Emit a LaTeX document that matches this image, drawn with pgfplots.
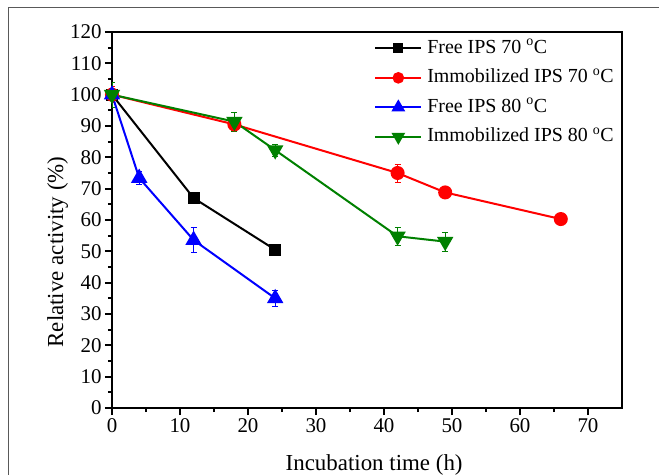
\documentclass[border=0pt]{standalone}
\usepackage{fontspec}
\setmainfont{Liberation Serif}
\usepackage{pgfplots}
\pgfplotsset{compat=1.18}
\definecolor{dgreen}{RGB}{0,128,0}
\begin{document}
\begin{tikzpicture}
\useasboundingbox (0,0) rectangle (659bp,475bp);
% outer frame of the figure (cut at right and bottom)
\draw[black!65, line width=0.8bp] (8bp,-10bp) -- (8bp,468bp) -- (680bp,468bp);
\begin{axis}[
    at={(112bp,67bp)}, anchor=south west,
    scale only axis, width=510bp, height=376bp,
    xmin=0, xmax=75, ymin=0, ymax=120,
    xtick={0,10,...,70}, ytick={0,10,...,120},
    minor x tick num=1, minor y tick num=1,
    tick align=outside, xtick pos=bottom, ytick pos=left,
    major tick length=7bp, minor tick length=4bp,
    tick style={black, line width=1.8bp},
    axis line style={line width=2.8bp},
    ticklabel style={font=\fontsize{21}{24}\selectfont},
    /pgf/number format/assume math mode=true,
    xlabel={Incubation time (h)},
    ylabel={Relative activity (\%)},
    xlabel style={at={(axis description cs:0.514,-0.165)}, anchor=base, font=\fontsize{23}{27}\selectfont},
    ylabel style={at={(axis description cs:-0.096,0.415)}, anchor=base, font=\fontsize{23}{27}\selectfont},
    legend style={draw=none, fill=none, at={(axis description cs:0.514,0.981)}, anchor=north west,
        inner sep=0pt, row sep=11.5bp, column sep=5bp,
        nodes={inner sep=0pt, text height=14bp, text depth=4bp, font=\fontsize{20}{24}\selectfont},
        cells={anchor=west}},
    legend image code/.code={\draw[mark repeat=2,mark phase=2,mark size=0.8*\pgfplotmarksize] plot coordinates {(0bp,0bp)(23bp,0bp)(46bp,0bp)};},
    error bars/y dir=both, error bars/y explicit,
    error bars/error bar style={line width=0.7bp},
    error bars/error mark options={rotate=90, mark size=3bp, line width=0.7bp},
]
\addplot[black, line width=2bp, mark=square*, mark size=5bp, mark options={solid, fill=black}]
coordinates {(0,100) +- (0,2) (12,67) +- (0,1.5) (24,50.5) +- (0,1)};
\addlegendentry{Free IPS 70 \textsuperscript{o}C}

\addplot[red, line width=2bp, mark=*, mark size=6bp, mark options={solid, fill=red}]
coordinates {(0,100) +- (0,2.5) (18,90.5) +- (0,2) (42,75) +- (0,2.9) (49,68.8) +- (0,1) (66,60.3) +- (0,1)};
\addlegendentry{Immobilized IPS 70 \textsuperscript{o}C}

\addplot[blue, line width=2bp, mark=triangle*, mark size=7.5bp, mark options={solid, fill=blue}]
coordinates {(0,100) +- (0,2) (4,73.4) +- (0,2) (12,53.6) +- (0,4) (24,35) +- (0,2.5)};
\addlegendentry{Free IPS 80 \textsuperscript{o}C}

\addplot[dgreen, line width=2bp, mark=triangle*, mark size=7.5bp, mark options={solid, fill=dgreen, rotate=180}]
coordinates {(0,100) +- (0,4) (18,91.4) +- (0,3) (24,82.3) +- (0,2) (42,54.8) +- (0,2.8) (49,53.1) +- (0,3)};
\addlegendentry{Immobilized IPS 80 \textsuperscript{o}C}
\end{axis}
\end{tikzpicture}
\end{document}
